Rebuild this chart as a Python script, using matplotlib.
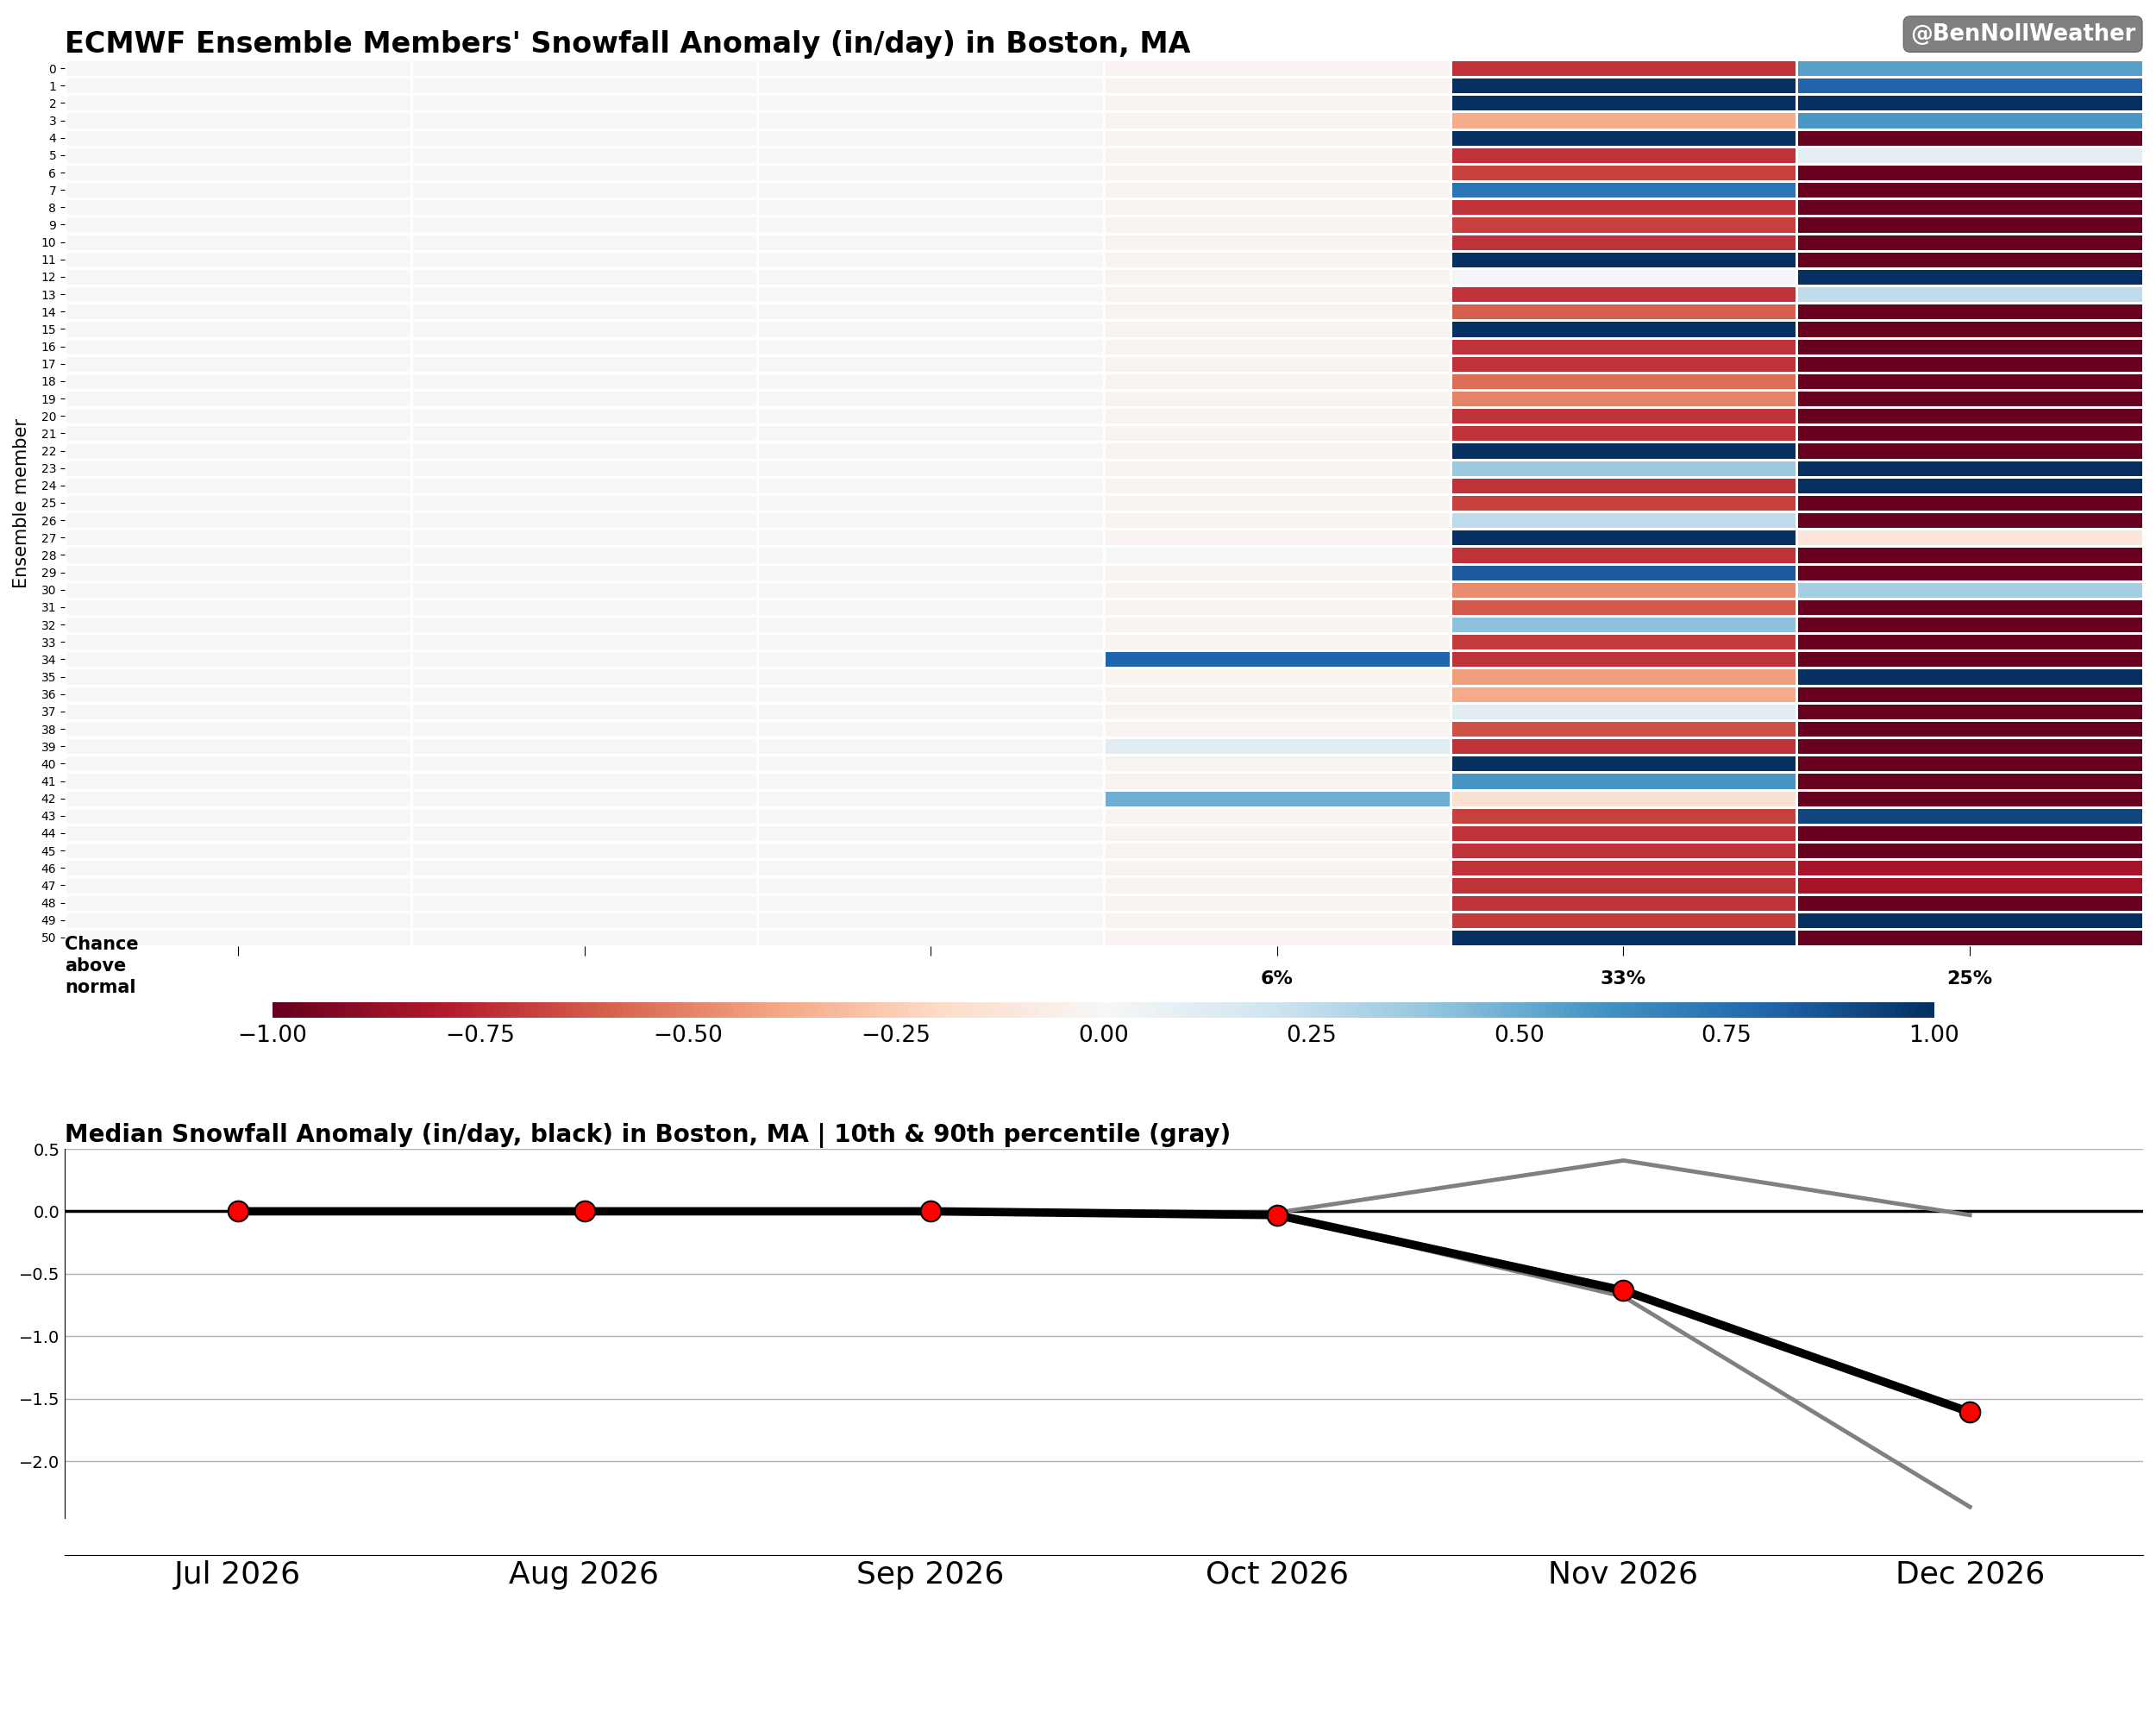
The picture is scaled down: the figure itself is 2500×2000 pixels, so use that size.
import numpy as np
import matplotlib
matplotlib.use("Agg")
import matplotlib.pyplot as plt

# --- data ---
months = ["Jul 2026", "Aug 2026", "Sep 2026", "Oct 2026", "Nov 2026", "Dec 2026"]
members = list(range(51))

# snowfall anomaly (in/day) per ensemble member, rows 0..50
anom_jul = [0.0, 0.0, 0.0, 0.0, 0.0, 0.0, 0.0, 0.0, 0.0, 0.0, 0.0, 0.0, 0.0, 0.0, 0.0, 0.0, 0.0,
            0.0, 0.0, 0.0, 0.0, 0.0, 0.0, 0.0, 0.0, 0.0, 0.0, 0.0, 0.0, 0.0, 0.0, 0.0, 0.0, 0.0,
            0.0, 0.0, 0.0, 0.0, 0.0, 0.0, 0.0, 0.0, 0.0, 0.0, 0.0, 0.0, 0.0, 0.0, 0.0, 0.0, 0.0]
anom_aug = [0.0, 0.0, 0.0, 0.0, 0.0, 0.0, 0.0, 0.0, 0.0, 0.0, 0.0, 0.0, 0.0, 0.0, 0.0, 0.0, 0.0,
            0.0, 0.0, 0.0, 0.0, 0.0, 0.0, 0.0, 0.0, 0.0, 0.0, 0.0, 0.0, 0.0, 0.0, 0.0, 0.0, 0.0,
            0.0, 0.0, 0.0, 0.0, 0.0, 0.0, 0.0, 0.0, 0.0, 0.0, 0.0, 0.0, 0.0, 0.0, 0.0, 0.0, 0.0]
anom_sep = [0.0, 0.0, 0.0, 0.0, 0.0, 0.0, 0.0, 0.0, 0.0, 0.0, 0.0, 0.0, 0.0, 0.0, 0.0, 0.0, 0.0,
            0.0, 0.0, 0.0, 0.0, 0.0, 0.0, 0.0, 0.0, 0.0, 0.0, 0.0, 0.0, 0.0, 0.0, 0.0, 0.0, 0.0,
            0.0, 0.0, 0.0, 0.0, 0.0, 0.0, 0.0, 0.0, 0.0, 0.0, 0.0, 0.0, 0.0, 0.0, 0.0, 0.0, 0.0]
anom_oct = [-0.03, -0.03, -0.03, -0.03, -0.03, -0.03, -0.03, -0.03, -0.03, -0.03, -0.03, -0.03,
            -0.03, -0.03, -0.03, -0.03, -0.03, -0.03, -0.03, -0.03, -0.03, -0.03, -0.03, -0.03,
            -0.03, -0.03, -0.03, -0.03, 0.0, -0.03, -0.03, -0.03, -0.03, -0.03, 0.80, -0.03,
            -0.03, -0.03, -0.03, 0.11, -0.03, -0.03, 0.49, -0.03, -0.03, -0.03, -0.03, -0.03,
            -0.03, -0.03, -0.03]
anom_nov = [-0.72, 1.30, 1.25, -0.37, 1.20, -0.72, -0.68, 0.73, -0.72, -0.68, -0.72, 1.40,
            0.02, -0.72, -0.60, 1.15, -0.72, -0.72, -0.56, -0.50, -0.72, -0.72, 1.10, 0.37,
            -0.72, -0.68, 0.26, 1.25, -0.72, 0.84, -0.47, -0.62, 0.41, -0.70, -0.72, -0.42,
            -0.38, 0.11, -0.64, -0.72, 1.35, 0.59, -0.16, -0.68, -0.72, -0.72, -0.72, -0.72,
            -0.72, -0.70, 1.20]
anom_dec = [0.55, 0.80, 1.30, 0.58, -1.80, 0.10, -1.60, -2.10, -1.50, -1.90, -1.70, -2.30,
            1.10, 0.26, -1.60, -1.80, -2.00, -1.40, -1.70, -2.20, -1.60, -1.90, -1.50, 1.20,
            1.05, -1.70, -2.40, -0.13, -1.60, -1.80, 0.34, -2.00, -1.50, -1.70, -2.20, 1.15,
            -1.60, -1.90, -1.40, -1.80, -2.50, -1.60, -1.70, 0.92, -1.90, -1.50, -0.83, -0.83,
            -1.20, 1.25, -2.00]

# monthly summary lines
median_line = [0.0, 0.0, 0.0, -0.03, -0.634, -1.607]
p90_line = [0.0, 0.0, 0.0, -0.01, 0.407, -0.03]
p10_line = [0.0, 0.0, 0.0, -0.03, -0.683, -2.366]

# --- figure ---
fig = plt.figure(figsize=(25, 20), dpi=100)

grid = np.array([anom_jul, anom_aug, anom_sep, anom_oct, anom_nov, anom_dec]).T
n_rows, n_cols = grid.shape

ax1 = fig.add_axes([0.030, 0.4515, 0.964, 0.514])
mesh = ax1.pcolormesh(np.arange(n_cols + 1), np.arange(n_rows + 1), grid,
                      cmap="RdBu", vmin=-1, vmax=1,
                      edgecolors="white", linewidth=0.8)
ax1.set_xlim(0, n_cols)
ax1.set_ylim(n_rows, 0)
for s in ax1.spines.values():
    s.set_visible(False)
ax1.set_yticks(np.arange(n_rows) + 0.5)
ax1.set_yticklabels([str(m) for m in members], fontsize=10)
ax1.set_ylabel("Ensemble member", fontsize=15)
ax1.yaxis.set_label_coords(-0.0165, 0.5)

# chance above normal under each month
chance = (grid > 0).mean(axis=0) * 100
chance_lbl = [f"{c:.0f}%" if c > 0 else "" for c in chance]
ax1.set_xticks(np.arange(n_cols) + 0.5)
ax1.set_xticklabels(chance_lbl, fontsize=16, fontweight="bold")
ax1.tick_params(axis="x", length=8, pad=12)
ax1.set_title("ECMWF Ensemble Members' Snowfall Anomaly (in/day) in Boston, MA",
              loc="left", fontsize=24, fontweight="bold")
fig.text(0.030, 1 - 1085 / 2000, "Chance\nabove\nnormal", fontsize=15,
         fontweight="bold", ha="left", va="top", linespacing=1.32)

cax = fig.add_axes([0.1264, 0.410, 0.7708, 0.009])
cb = fig.colorbar(mesh, cax=cax, orientation="horizontal")
cb.set_ticks(np.arange(-1, 1.01, 0.25))
cb.outline.set_visible(False)
cax.tick_params(length=0, labelsize=19, pad=6)

# watermark
fig.text(0.9905, 0.9802, "@BenNollWeather", fontsize=18.5, fontweight="bold",
         color="white", ha="right", va="center",
         bbox=dict(boxstyle="round,pad=0.3", facecolor="gray", edgecolor="dimgray"))

# --- median panel ---
ax2 = fig.add_axes([0.030, 0.120, 0.964, 0.214])
x = np.arange(len(months))
ax2.axhline(0, color="black", lw=2.5, zorder=2)
ax2.plot(x, p90_line, color="gray", lw=3.5, zorder=3)
ax2.plot(x, p10_line, color="gray", lw=3.5, zorder=3)
ax2.plot(x, median_line, color="black", lw=7, marker="o", markersize=17,
         markerfacecolor="red", markeredgecolor="black", markeredgewidth=1.5, zorder=4)
ax2.spines["top"].set_visible(False)
ax2.spines["right"].set_visible(False)
ax2.spines["bottom"].set_position(("outward", 31))
ax2.set_xlim(-0.5, len(months) - 0.5)
ax2.set_ylim(-2.455, 0.5)
ax2.set_xticks(x)
ax2.set_xticklabels(months)
ax2.tick_params(axis="x", length=0, pad=4, labelsize=26)
ax2.tick_params(axis="y", length=0, labelsize=14, pad=4)
ax2.yaxis.grid(True, color="#b0b0b0", lw=1)
ax2.set_axisbelow(True)
ax2.set_title("Median Snowfall Anomaly (in/day, black) in Boston, MA | 10th & 90th percentile (gray)",
              loc="left", fontsize=20, fontweight="bold")

fig.savefig("out.png", dpi=100)
